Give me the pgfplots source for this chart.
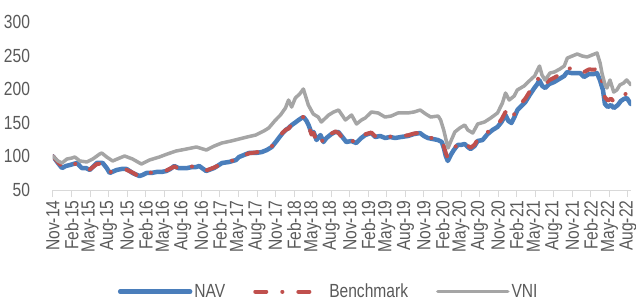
\documentclass[border=0pt]{standalone}
\usepackage{fontspec}
\setmainfont{Liberation Sans}[FakeStretch=0.82]
\usepackage{pgfplots}
\pgfplotsset{compat=1.18}
\definecolor{navblue}{HTML}{4A7EBB}
\definecolor{benchred}{HTML}{C0504D}
\definecolor{vnigray}{HTML}{A5A5A5}
\definecolor{textgray}{HTML}{595959}
\definecolor{axisgray}{HTML}{D9D9D9}

\pgfplotstableread{
m v
0 100
0.80 90.2
1.45 82.7
2.09 85.7
2.73 87.2
3.86 90.2
4.66 82.7
5.31 82.7
5.95 79.8
7.08 90.2
8.04 90.2
8.69 82.7
9.17 75.3
10.30 79.8
11.10 81.3
11.90 81.3
12.87 75.3
13.99 70.8
14.48 72.3
15.12 75.3
15.93 75.3
16.73 76.8
17.53 76.8
18.34 78.3
18.98 81.3
19.62 85.7
20.27 82.7
20.91 82.7
21.72 82.7
22.52 84.2
23.16 84.2
23.65 85.7
24.77 78.3
26.06 82.7
27.35 90.2
28.47 91.7
29.60 94.6
30.08 99.1
30.89 102.1
31.69 105.1
32.82 105.1
33.78 106.5
34.59 109.5
35.39 114.0
36.03 121.4
36.52 127.4
37.16 134.8
37.64 139.3
38.12 142.3
38.61 146.7
39.09 149.7
39.73 154.2
40.22 157.1
40.54 158.6
41.02 152.7
41.34 146.7
41.82 134.8
42.15 136.3
42.63 124.4
43.27 131.8
43.75 121.4
44.24 127.4
45.04 133.3
45.68 136.3
46.17 136.3
46.81 128.9
47.45 121.4
48.26 122.9
49.06 119.9
49.87 127.4
50.51 131.8
51.48 134.8
52.12 128.9
52.92 130.4
53.73 127.4
54.53 128.9
55.34 127.4
56.30 128.9
57.43 130.4
58.39 133.3
59.36 134.8
60.00 130.4
60.64 127.4
61.45 125.9
62.25 124.4
62.90 121.4
63.22 112.5
63.54 100.6
63.86 93.2
64.34 102.1
64.83 109.5
65.47 117.0
65.95 117.0
66.60 118.5
67.08 114.0
67.56 111.0
68.20 115.5
68.69 122.9
69.49 124.4
70.30 133.3
71.10 139.3
71.90 143.8
72.55 151.2
73.19 161.6
73.67 152.7
74.16 149.7
74.64 158.6
75.12 169.0
75.77 175.0
76.41 181.0
77.21 192.9
77.86 201.8
78.34 207.7
78.66 213.7
79.14 204.8
79.63 201.8
80.27 207.7
81.07 210.7
81.88 215.2
82.68 219.6
83.17 225.6
83.81 224.1
84.45 224.1
85.26 224.1
85.90 218.2
86.70 222.6
87.51 222.6
87.99 224.1
88.47 213.7
88.96 198.8
89.28 178.0
89.76 173.5
90.24 176.5
90.73 172.0
91.37 176.5
91.85 182.4
92.33 185.4
92.82 186.9
93.46 178.0
}\navtable

\pgfplotstableread{
m v
0 100
0.80 91.5
1.45 85.0
2.09 86.5
2.73 88.0
3.86 89.0
4.66 84.0
5.31 81.5
5.95 80.5
7.08 88.5
8.04 89.5
8.69 83.5
9.17 76.5
10.30 79.0
11.10 80.5
11.90 80.0
12.87 76.0
13.99 69.5
14.48 72.0
15.12 74.5
15.93 76.0
16.73 77.5
17.53 77.0
18.34 79.0
18.98 82.0
19.62 85.0
20.27 82.0
20.91 81.5
21.72 83.5
22.52 85.0
23.16 84.5
23.65 84.5
24.77 79.0
26.06 83.5
27.35 89.0
28.47 92.5
29.60 95.0
30.08 98.5
30.89 101.5
31.69 104.5
32.82 106.0
33.78 107.5
34.59 110.5
35.39 115.0
36.03 122.5
36.52 128.5
37.16 135.5
37.64 139.5
38.12 141.5
38.61 147.5
39.09 150.5
39.73 154.5
40.22 157.5
40.54 159.0
41.02 153.5
41.34 145.0
41.82 132.5
42.15 135.0
42.63 122.0
43.27 129.5
43.75 119.5
44.24 126.0
45.04 134.0
45.68 137.0
46.17 135.0
46.81 127.5
47.45 120.0
48.26 123.5
49.06 121.0
49.87 128.5
50.51 133.0
51.48 135.5
52.12 130.0
52.92 131.0
53.73 128.0
54.53 129.5
55.34 128.0
56.30 130.0
57.43 131.5
58.39 134.0
59.36 135.5
60.00 131.5
60.64 128.5
61.45 127.0
62.25 125.5
62.90 123.0
63.22 115.0
63.54 105.0
63.86 97.5
64.34 104.5
64.83 111.0
65.47 119.0
65.95 118.5
66.60 120.5
67.08 116.0
67.56 113.0
68.20 117.5
68.69 125.0
69.49 126.5
70.30 136.0
71.10 142.5
71.90 147.5
72.55 155.0
73.19 166.0
73.67 157.0
74.16 154.5
74.64 163.5
75.12 173.5
75.77 179.5
76.41 186.0
77.21 198.0
77.86 207.0
78.34 213.0
78.66 219.0
79.14 210.0
79.63 207.5
80.27 213.5
81.07 217.0
81.88 221.5
82.68 226.0
83.17 231.5
83.81 230.5
84.45 231.0
85.26 230.5
85.90 225.5
86.70 229.5
87.51 229.0
87.99 231.0
88.47 221.0
88.96 207.5
89.28 188.0
89.76 183.0
90.24 186.0
90.73 181.5
91.37 185.0
91.85 190.0
92.33 192.5
92.82 193.0
93.46 184.0
}\benchtable

\pgfplotstableread{
m v
0 100
0.80 93.2
1.45 90.2
2.25 96.1
3.06 97.6
3.54 99.1
4.34 93.2
5.47 91.7
6.43 96.1
7.56 103.6
7.88 105.1
8.69 99.1
9.65 93.2
10.78 97.6
11.58 100.6
12.87 96.1
14.0 90.2
14.3 88.7
15.6 94.6
17.2 99.1
18.5 103.6
19.9 108.0
21.6 111.0
23.2 114.0
24.8 109.5
26.1 115.5
27.3 119.9
28.8 122.9
30.1 125.9
31.4 128.9
32.8 131.8
34.1 137.8
34.9 142.3
36.0 154.2
36.8 161.6
37.6 172.0
38.1 183.9
38.6 173.5
39.2 186.9
39.9 192.9
40.5 200.3
41.3 176.5
42.1 163.1
42.9 158.6
43.4 151.2
44.6 161.6
45.4 166.1
46.2 169.0
47.3 154.2
48.3 161.6
49.1 148.2
49.9 154.2
50.5 157.1
51.5 166.1
52.6 164.6
53.7 158.6
54.7 160.1
55.8 164.6
57.4 164.6
58.4 166.1
59.4 169.0
60.3 163.1
61.1 158.6
62.3 160.1
62.7 154.2
63.2 139.3
63.9 112.5
64.3 121.4
65.0 136.3
65.8 142.3
66.6 146.7
67.1 139.3
67.9 134.8
68.7 148.2
69.8 151.2
70.8 157.1
71.9 164.6
72.7 179.5
73.2 194.3
73.8 183.9
74.6 189.9
75.1 198.8
76.2 204.8
77.2 213.7
77.9 219.6
78.7 234.5
79.1 221.1
79.6 213.7
80.4 224.1
81.1 225.6
82.0 230.1
82.7 234.5
83.2 246.4
84.0 249.4
84.8 252.4
85.6 249.4
86.4 247.9
87.2 250.9
88.0 253.9
88.5 239.0
88.8 224.1
89.3 206.3
89.6 201.8
90.1 213.7
90.7 195.8
91.2 198.8
91.7 206.3
92.3 209.2
92.8 213.7
93.5 206.3
}\vnitable

\begin{document}
\begin{tikzpicture}[font=\fontsize{19bp}{22bp}\selectfont]
\useasboundingbox (-53bp,-113bp) rectangle (583bp,190bp);
\begin{axis}[
  at={(0,0)}, anchor=south west,
  width=578bp, height=168bp, scale only axis,
  xmin=0, xmax=93.5, ymin=50, ymax=300,
  axis line style={draw=none},
  tick pos=left,
  xtick={0,3,...,93},
  xticklabels={Nov-14,Feb-15,May-15,Aug-15,Nov-15,Feb-16,May-16,Aug-16,Nov-16,Feb-17,May-17,Aug-17,Nov-17,Feb-18,May-18,Aug-18,Nov-18,Feb-19,May-19,Aug-19,Nov-19,Feb-20,May-20,Aug-20,Nov-20,Feb-21,May-21,Aug-21,Nov-21,Feb-22,May-22,Aug-22},
  ytick={50,100,...,300},
  tick align=outside,
  major tick length=7bp,
  xtick style={draw=axisgray, line width=1bp},
  ytick style={draw=none},
  tick label style={text=textgray},
  xticklabel style={rotate=90, anchor=east},
  yticklabel style={xshift=-12.5bp},
  /pgf/number format/assume math mode=true,
  legend columns=3,
  legend style={at={(0.477,-0.605)}, anchor=center, draw=none, fill=none, text=textgray,
    inner sep=0pt,
    /tikz/every even column/.append style={column sep=26bp}},
  legend image code/.code={\draw[#1] (0bp,0bp) -- (70bp,0bp);},
  every axis plot/.append style={line join=round},
]
\draw[axisgray, line width=1bp] (axis cs:0,50) -- (axis cs:93.5,50);
\addplot[navblue, line width=4.5bp, line cap=round] table[x=m,y=v] {\navtable};
\addlegendentry{NAV}
\addplot[benchred, line width=4bp, line cap=round, dash pattern=on 11bp off 16bp on 0.1bp off 16bp] table[x=m,y=v] {\benchtable};
\addlegendentry{Benchmark}
\addplot[vnigray, line width=3.5bp, line cap=round] table[x=m,y=v] {\vnitable};
\addlegendentry{VNI}
\end{axis}
\end{tikzpicture}
\end{document}
